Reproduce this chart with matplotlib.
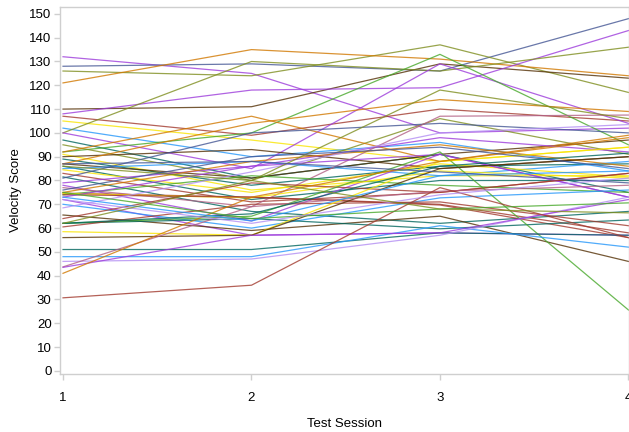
import matplotlib.pyplot as plt

# Sesiones de prueba
sesiones = [1, 2, 3, 4]

# Colores por defecto del estilo SAS HTMLBlue
azul = '#445694'
rojo = '#A23A2E'
verde_az = '#01665E'
cafe = '#543005'
morado = '#9D3CDB'
oliva = '#7F8E1F'
celeste = '#2597FA'
rosa = '#B26084'
naranja = '#D17800'
verde = '#47A82A'
lavanda = '#B38EF3'
amarillo = '#F9E500'

# Puntajes por sujeto (sesiones 1-4)
s01 = [132, 125, 100, 102]
s02 = [128, 129, 126, 148]
s03 = [126, 124, 137, 117]
s04 = [121, 135, 131, 124]
s05 = [110, 111, 129, 123]
s06 = [108, 118, 119, 143]
s07 = [107, 99, 110, 105]
s08 = [105, 97, 88, 94]
s09 = [102, 90, 96, 84]
s10 = [100, 130, 126, 136]
s11 = [100, 85, 129, 104]
s12 = [97, 81, 91, 75]
s13 = [92, 100, 133, 95]
s14 = [95, 80, 106, 91]
s15 = [91, 76, 82, 82]
s16 = [90, 93, 85, 90]
s17 = [89, 78, 86, 87]
s18 = [87, 81, 91, 97]
s19 = [87, 104, 114, 109]
s20 = [92, 107, 88, 99]
s21 = [86, 72, 80, 80]
s22 = [85, 88, 82, 88]
s23 = [84.5, 75, 87, 81.5]
s24 = [83, 71, 75, 83]
s25 = [81.5, 67, 62, 67]
s26 = [81, 100, 104, 100]
s27 = [79, 86, 98, 92]
s28 = [78, 63, 91, 73]
s29 = [77, 69, 107, 107.5]
s30 = [75, 88, 95, 86]
s31 = [74.7, 73, 70, 58]
s32 = [74, 82, 78, 75]
s33 = [74.6, 72.7, 84, 81]
s34 = [74, 73, 69.7, 56]
s35 = [73, 86, 91, 73]
s36 = [72, 57, 58, 57]
s37 = [70, 60, 72.7, 76]
s38 = [68.5, 83.6, 100, 103.5]
s39 = [65.5, 59, 65, 46]
s40 = [64, 79, 75, 83]
s41 = [62, 64, 59.7, 63.4]
s42 = [62, 65, 92, 25.6]
s43 = [60.5, 70, 71, 61]
s44 = [58.5, 57, 88, 94]
s45 = [56, 57, 85, 90]
s46 = [51, 51, 58, 57]
s47 = [48, 48, 61, 52]
s48 = [46, 47, 57, 73]
s49 = [43.7, 69, 75.5, 78]
s50 = [43.5, 57, 58, 72]
s51 = [41, 73, 88, 98]
s52 = [30.7, 36, 77, 56]
s53 = [86, 80, 118, 106]
s54 = [76, 90, 94, 85]
s55 = [62, 66, 86, 91.5]
s56 = [73, 63, 82, 84]
s57 = [75, 64, 68, 70.6]
s58 = [87, 88, 83.6, 79]
s59 = [72, 62, 74, 81]
s60 = [62, 80, 68, 66.4]

sujetos = [s01, s02, s03, s04, s05, s06, s07, s08, s09, s10,
           s11, s12, s13, s14, s15, s16, s17, s18, s19, s20,
           s21, s22, s23, s24, s25, s26, s27, s28, s29, s30,
           s31, s32, s33, s34, s35, s36, s37, s38, s39, s40,
           s41, s42, s43, s44, s45, s46, s47, s48, s49, s50,
           s51, s52, s53, s54, s55, s56, s57, s58, s59, s60]
colores = [morado, azul, oliva, naranja, cafe, morado, rojo, amarillo, celeste, oliva,
           morado, verde_az, verde, oliva, amarillo, cafe, verde_az, cafe, naranja, naranja,
           verde_az, celeste, amarillo, rojo, verde_az, azul, morado, morado, rosa, naranja,
           rojo, verde, amarillo, rojo, morado, morado, celeste, lavanda, cafe, rojo,
           verde_az, verde, rojo, amarillo, cafe, verde_az, celeste, lavanda, rosa, morado,
           naranja, rojo, oliva, azul, verde_az, celeste, verde, azul, lavanda, oliva]

plt.rcParams['font.family'] = ['Liberation Sans', 'DejaVu Sans']

fig = plt.figure(figsize=(6.29, 4.32), dpi=100)
ax = fig.add_axes([0.0954, 0.1343, 0.9046, 0.8495])

for vals, c in zip(sujetos, colores):
    ax.plot(sesiones, vals, color=c, linewidth=0.9, alpha=0.8)

ax.set_xlim(0.984, 4.003)
ax.set_ylim(-1.3, 152.9)
ax.set_xticks(sesiones)
ax.set_yticks(range(0, 151, 10))

gris = '#CFCFCF'
for lado in ['left', 'bottom', 'top', 'right']:
    ax.spines[lado].set_color(gris)
    ax.spines[lado].set_linewidth(1.0)
ax.tick_params(axis='both', colors=gris, labelcolor='black', labelsize=9.5, length=4, width=1)
ax.tick_params(axis='x', pad=9)
ax.tick_params(axis='y', pad=2)

ax.set_xlabel('Test Session', fontsize=9.5, labelpad=10)
ax.set_ylabel('Velocity Score', fontsize=9.5, labelpad=5)

fig.savefig('out.png', dpi=100)
